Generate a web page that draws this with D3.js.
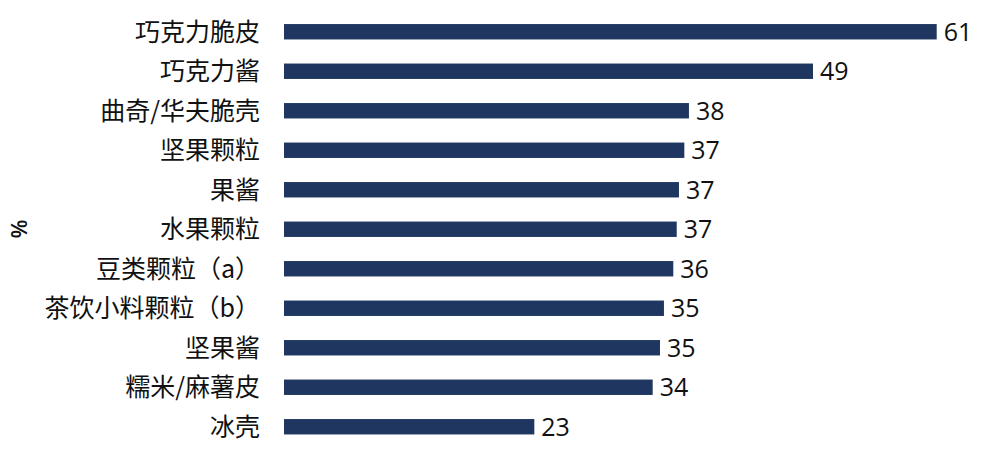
<!DOCTYPE html>
<html><head><meta charset="utf-8">
<script src="https://cdn.jsdelivr.net/npm/d3@7/dist/d3.min.js"></script>
<style>body{margin:0;background:#fff;}svg{display:block;}</style>
</head><body>
<svg id="c" width="999" height="460"></svg>
<script>
const categories = ["巧克力脆皮","巧克力酱","曲奇/华夫脆壳","坚果颗粒","果酱","水果颗粒","豆类颗粒（a）","茶饮小料颗粒（b）","坚果酱","糯米/麻薯皮","冰壳"];
// values; labels show them rounded
const values = [60.83,49.30,37.74,37.31,36.81,36.60,36.28,35.41,35.04,34.36,23.33];
const axisTitle = "%";

const svg = d3.select("#c");
const x = d3.scaleLinear().domain([0, 60.83]).range([284, 936.7]);
const y = d3.scaleBand().domain(categories).range([12, 446.5]).paddingInner(0.61).paddingOuter(0.305);
const color = "#1f3660";

svg.selectAll("rect.bar").data(values).enter().append("rect")
  .attr("class","bar")
  .attr("x", x(0))
  .attr("y", (d,i) => y(categories[i]))
  .attr("width", d => x(d) - x(0))
  .attr("height", y.bandwidth())
  .attr("fill", color);

svg.selectAll("text.cat").data(categories).enter().append("text")
  .attr("class","cat")
  .attr("x", 260)
  .attr("y", d => y(d) + y.bandwidth()/2)
  .attr("dy", "0.36em")
  .attr("text-anchor","end")
  .style("font-family","'Noto Sans CJK SC', sans-serif")
  .style("font-size","25px")
  .attr("fill","#111")
  .text(d => d);

svg.selectAll("text.val").data(values).enter().append("text")
  .attr("class","val")
  .attr("x", d => x(d) + 7)
  .attr("y", (d,i) => y(categories[i]) + y.bandwidth()/2)
  .attr("dy", "0.36em")
  .style("font-family","'Open Sans', sans-serif")
  .style("font-size","25px")
  .attr("fill","#111")
  .text(d => Math.round(d));

svg.append("text")
  .attr("transform","translate(27,229) rotate(-90)")
  .attr("text-anchor","middle")
  .style("font-family","'Open Sans', sans-serif")
  .style("font-size","22px")
  .style("font-weight","600")
  .attr("fill","#111")
  .text(axisTitle);
</script>
</body></html>
